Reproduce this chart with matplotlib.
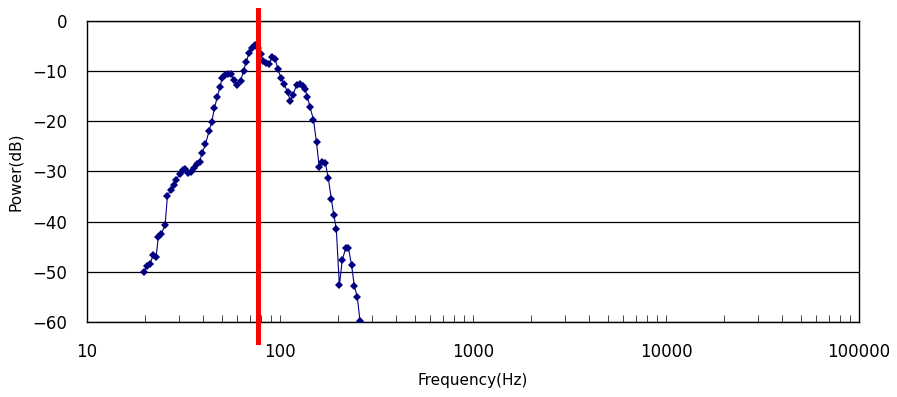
import matplotlib
matplotlib.use("Agg")
import matplotlib.pyplot as plt
from matplotlib.ticker import FixedLocator, LogLocator, NullFormatter

plt.rcParams["font.family"] = ["DejaVu Sans"]

# spectrum points (Hz, dB)
freq_hz = [
    19.7, 20.5, 21.2, 22.0, 22.8, 23.4, 24.3, 25.4, 26.1, 27.1,
    28.1, 28.9, 30.2, 31.3, 32.2, 33.4, 34.6, 35.8, 37.2, 38.3,
    39.4, 41.1, 42.9, 44.3, 45.7, 47.3, 48.9, 50.2, 51.9, 53.8,
    55.7, 57.8, 60.1, 62.6, 64.7, 66.9, 69.1, 71.6, 74.2, 76.9,
    79.4, 82.1, 85.1, 87.7, 90.9, 94.2, 97.6, 101.2, 104.9, 109.4,
    113.1, 116.8, 121.8, 126.2, 130.8, 134.8, 138.5, 143.0, 149.1, 154.6,
    159.7, 165.1, 171.7, 178.0, 184.5, 189.8, 195.8, 203.0, 210.3, 219.0,
    226.4, 234.7, 242.7, 251.5, 259.8,
]
power_db = [
    -50.0, -48.9, -48.5, -46.7, -47.1, -43.1, -42.4, -40.6, -34.9, -33.7,
    -32.7, -31.8, -30.5, -29.8, -29.6, -30.4, -30.2, -29.4, -28.5, -28.1,
    -26.4, -24.6, -21.9, -20.1, -17.4, -15.2, -13.1, -11.4, -10.8, -10.5,
    -10.6, -11.8, -12.7, -11.9, -9.9, -8.1, -6.4, -5.4, -4.8, -5.4,
    -6.6, -8.0, -8.4, -8.6, -7.2, -7.5, -9.6, -11.4, -12.5, -14.2,
    -15.9, -14.7, -12.8, -12.5, -12.9, -13.5, -15.1, -17.1, -19.7, -24.2,
    -29.1, -28.2, -28.3, -31.3, -35.5, -38.6, -41.4, -52.7, -47.6, -45.3,
    -45.3, -48.6, -52.8, -55.0, -59.9,
]
marker_freq = 77.0
y_ticks = [0, -10, -20, -30, -40, -50, -60]
x_ticks = [10, 100, 1000, 10000, 100000]
x_tick_labels = ["10", "100", "1000", "10000", "100000"]

fig = plt.figure(figsize=(8.97, 3.97), dpi=100)
ax = fig.add_axes([0.097, 0.189, 0.8606, 0.7582])

ax.plot(freq_hz, power_db, color="#000080", linewidth=0.8,
        marker="D", markersize=3.8, markeredgewidth=0, zorder=3)

# red reference line, runs past the plot frame
ax.axvline(marker_freq, ymin=-0.066, ymax=1.037, color="#ff0000",
           linewidth=3.6, clip_on=False, zorder=4)

ax.set_xscale("log")
ax.set_xlim(10, 100000)
ax.set_ylim(-60, 0)

ax.xaxis.set_major_locator(FixedLocator(x_ticks))
ax.set_xticklabels(x_tick_labels)
ax.xaxis.set_minor_locator(LogLocator(base=10, subs=range(2, 10)))
ax.xaxis.set_minor_formatter(NullFormatter())
ax.tick_params(axis="x", which="both", direction="in", length=5,
               width=0.7, color="#444444", pad=15, labelsize=12)

ax.set_yticks(y_ticks)
ax.set_yticklabels(["0" if v == 0 else f"\u2212{abs(v)}" for v in y_ticks])
ax.tick_params(axis="y", length=0, pad=14, labelsize=12)
ax.yaxis.grid(True, color="black", linewidth=0.9)
ax.set_axisbelow(True)

for s in ax.spines.values():
    s.set_color("black")
    s.set_linewidth(1.0)

ax.set_xlabel("Frequency(Hz)", fontsize=11, labelpad=9)
ax.set_ylabel("Power(dB)", fontsize=11, labelpad=7)

fig.savefig("out.png", dpi=100)
